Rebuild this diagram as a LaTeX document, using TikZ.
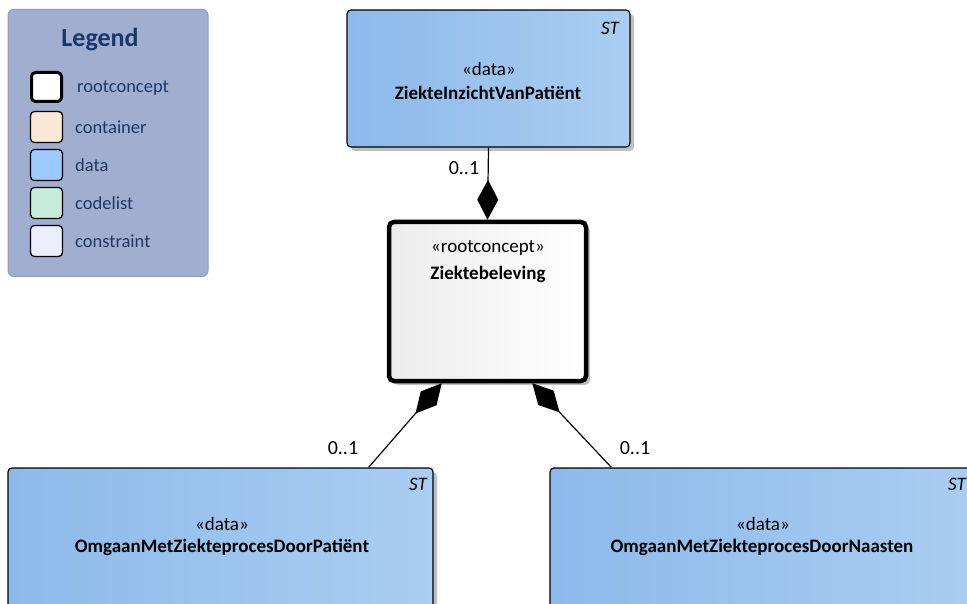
\documentclass[tikz,border=0pt]{standalone}
\usepackage{fontspec}
\setmainfont{Carlito}
\usetikzlibrary{arrows.meta,shadows,calc}
\definecolor{legbg}{RGB}{160,174,208}
\definecolor{legborder}{RGB}{140,156,196}
\definecolor{legtext}{RGB}{31,56,100}
\definecolor{legtitle}{RGB}{25,55,105}
\definecolor{dataL}{RGB}{140,186,234}
\definecolor{dataR}{RGB}{170,205,242}
\definecolor{rootL}{RGB}{236,236,236}
\definecolor{swcont}{RGB}{251,231,216}
\definecolor{swdata}{RGB}{155,203,251}
\definecolor{swcode}{RGB}{197,235,219}
\definecolor{swcons}{RGB}{236,238,252}
\tikzset{
  databox/.style={draw=black, line width=1.2pt, rounded corners=4pt, left color=dataL, right color=dataR,
    drop shadow={shadow xshift=4pt, shadow yshift=-4pt, fill=black!25, opacity=1}},
  rootbox/.style={draw=black, line width=4.5pt, rounded corners=5pt, left color=rootL, right color=white,
    drop shadow={shadow xshift=4pt, shadow yshift=-4pt, fill=black!25, opacity=1}},
  swatch/.style={draw=black, line width=1.3pt, rounded corners=4pt, minimum width=32pt, minimum height=31pt, inner sep=0pt},
  legtxt/.style={font=\fontsize{18.5}{22}\selectfont, text=legtext, anchor=west, inner sep=0pt},
  stereo/.style={font=\fontsize{19}{23}\selectfont, inner sep=0pt},
  cname/.style={font=\bfseries\fontsize{19}{23}\selectfont, inner sep=0pt},
  sttag/.style={font=\itshape\fontsize{19}{23}\selectfont, inner sep=0pt},
  mult/.style={font=\fontsize{20}{24}\selectfont, inner sep=0pt},
  comp/.style={line width=1.2pt, -{Diamond[length=40pt,width=21pt]}}
}
\begin{document}
\begin{tikzpicture}[x=1pt,y=-1pt]
\useasboundingbox (0,0) rectangle (967,604);
% legend
\node[draw=legborder, line width=1pt, fill=legbg, rounded corners=6pt, minimum width=200pt, minimum height=267pt, inner sep=0pt] (legend) at (108,143) {};
\node[font=\bfseries\fontsize{26}{30}\selectfont, text=legtitle, inner sep=0pt] (legtitle) at (100,40) {Legend};
\node[swatch, line width=3pt, fill=white, minimum width=30pt, minimum height=29pt] (s1) at (46.5,87) {};
\node[swatch, fill=swcont] (s2) at (46.5,127) {};
\node[swatch, fill=swdata] (s3) at (46.5,165) {};
\node[swatch, fill=swcode] (s4) at (46.5,203) {};
\node[swatch, fill=swcons] (s5) at (46.5,241) {};
\node[legtxt] (l1) at (77,88) {rootconcept};
\node[legtxt] (l2) at (75,127) {container};
\node[legtxt] (l3) at (75,165) {data};
\node[legtxt] (l4) at (75,203) {codelist};
\node[legtxt] (l5) at (75,241) {constraint};
% boxes
\node[databox, minimum width=283pt, minimum height=137pt] (top) at (488.5,78.5) {};
\node[rootbox, minimum width=197pt, minimum height=159pt] (root) at (487.5,301.5) {};
\node[databox, minimum width=425pt, minimum height=152pt] (bl) at (220.5,544) {};
\node[databox, minimum width=430pt, minimum height=152pt] (br) at (765,544) {};
% texts
\node[sttag] (sttop) at (610,28) {ST};
\node[stereo] (sttop2) at (489,69) {«data»};
\node[cname] (ntop) at (488,93) {ZiekteInzichtVanPatiënt};
\node[stereo] (sroot) at (488,248) {«rootconcept»};
\node[cname] (nroot) at (488,274) {Ziektebeleving};
\node[sttag] (stbl) at (418,484) {ST};
\node[stereo] (sbl) at (222,524) {«data»};
\node[cname] (nbl) at (222,547) {OmgaanMetZiekteprocesDoorPatiënt};
\node[sttag] (stbr) at (957,484) {ST};
\node[stereo] (sbr) at (763,524) {«data»};
\node[cname] (nbr) at (762,547) {OmgaanMetZiekteprocesDoorNaasten};
% connectors
\draw[comp] (top.south) -- (root.north);
\draw[comp] ([xshift=-65pt]bl.north east) -- ([xshift=55pt]root.south west);
\draw[comp] ([xshift=62pt]br.north west) -- ([xshift=-56pt]root.south east);
\node[mult] (m1) at (464,168) {0..1};
\node[mult] (m2) at (343,448) {0..1};
\node[mult] (m3) at (635,448) {0..1};
\end{tikzpicture}
\end{document}
